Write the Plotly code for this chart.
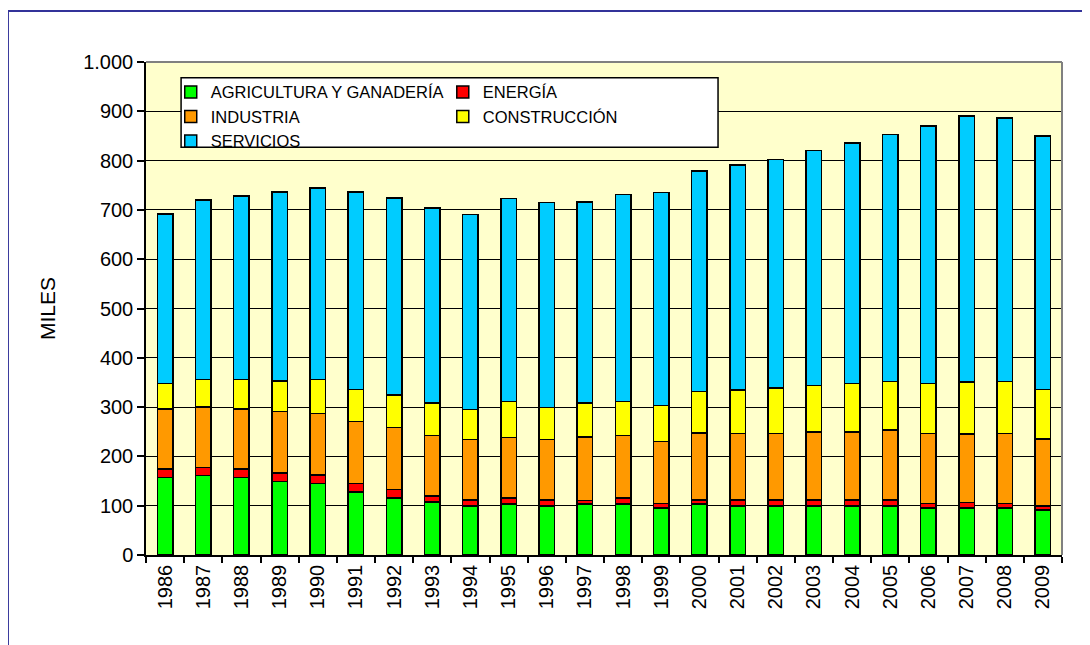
import plotly.graph_objects as go

years = [str(y) for y in range(1986, 2010)]

agricultura = [157, 161, 157, 149, 145, 128, 116, 108, 99, 103, 99, 103,
               103, 95, 103, 99, 99, 99, 99, 99, 95, 95, 95, 91]
energia = [17, 17, 17, 17, 17, 17, 17, 12, 13, 13, 13, 8,
           13, 9, 9, 13, 13, 13, 13, 13, 9, 12, 9, 8]
industria = [122, 122, 122, 125, 125, 126, 126, 122, 122, 122, 122, 128,
             126, 126, 135, 134, 134, 138, 138, 142, 142, 138, 142, 136]
construccion = [52, 56, 60, 62, 69, 65, 66, 66, 61, 73, 65, 69,
                69, 73, 85, 89, 93, 94, 98, 98, 102, 106, 106, 101]
servicios = [344, 364, 372, 383, 388, 400, 399, 396, 396, 412, 416, 408,
             420, 432, 447, 456, 463, 476, 488, 501, 522, 539, 534, 514]

# (nombre, valores, color, leyenda)
series = [
    ('AGRICULTURA Y GANADERÍA', agricultura, '#00FF00', 'legend'),
    ('ENERGÍA', energia, '#FF0000', 'legend2'),
    ('INDUSTRIA', industria, '#FF9900', 'legend'),
    ('CONSTRUCCIÓN', construccion, '#FFFF00', 'legend2'),
    ('SERVICIOS', servicios, '#00CCFF', 'legend'),
]

FONT = 'Liberation Sans, Arial, sans-serif'

fig = go.Figure()
for name, vals, color, leg in series:
    fig.add_trace(go.Bar(
        x=years, y=vals, name=name, legend=leg,
        marker=dict(color=color, line=dict(color='black', width=1.5)),
    ))

legend_style = dict(
    orientation='v', xanchor='left', yanchor='top',
    bgcolor='rgba(0,0,0,0)', borderwidth=0,
    font=dict(family=FONT, size=16.5, color='black'),
    itemwidth=30, traceorder='normal', tracegroupgap=0,
)

# la página html añade 8px de margen al body -> márgenes compensados
fig.update_layout(
    width=1090, height=645,
    margin=dict(l=138, r=36, t=54, b=98),
    barmode='stack', bargap=0.59,
    plot_bgcolor='#FFFFCC', paper_bgcolor='white',
    separators=',.',
    font=dict(family=FONT, color='black'),
    legend=dict(x=0.027, y=0.974, **legend_style),
    legend2=dict(x=0.324, y=0.974, **legend_style),
    showlegend=True,
)

fig.update_xaxes(
    type='category', tickangle=-90, tickson='boundaries',
    ticks='outside', ticklen=6, tickwidth=1.5, tickcolor='black',
    showline=True, linecolor='black', linewidth=1.5,
    showgrid=False, tickfont=dict(size=20),
)
fig.update_yaxes(
    range=[0, 1000], dtick=100, tickformat=',d',
    ticks='outside', ticklen=7, tickwidth=1.5, tickcolor='black',
    showline=True, linecolor='black', linewidth=1.5,
    showgrid=True, gridcolor='black', gridwidth=1.2, zeroline=False,
    tickfont=dict(size=20),
    title=dict(text='MILES', font=dict(size=21), standoff=22),
)

# borde gris del área de trazado (arriba y derecha)
fig.add_shape(type='line', xref='paper', yref='paper', x0=0, x1=1, y0=1, y1=1,
              line=dict(color='#808080', width=2))
fig.add_shape(type='line', xref='paper', yref='paper', x0=1, x1=1, y0=0, y1=1,
              line=dict(color='#808080', width=2))

# caja de la leyenda
fig.add_shape(type='rect', xref='paper', yref='paper', layer='above',
              x0=0.0383, x1=0.6245, y0=0.827, y1=0.968,
              fillcolor='white', line=dict(color='black', width=1.5))

# marco azul del gráfico
fig.add_shape(type='rect', xref='paper', yref='paper',
              x0=-0.1507, x1=1.2, y0=-0.35, y1=1.1034,
              line=dict(color='#333399', width=2))

fig.write_html('out.html')
